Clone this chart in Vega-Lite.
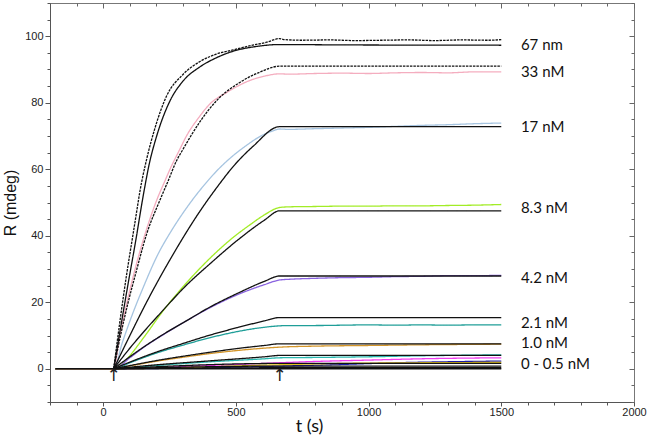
{
  "$schema": "https://vega.github.io/schema/vega-lite/v6.json",
  "width": 584,
  "height": 399,
  "autosize": {"type": "none"},
  "padding": {"left": 50, "top": 3, "right": 15, "bottom": 39},
  "background": "white",
  "config": {
    "view": {"stroke": "#777", "strokeWidth": 1},
    "axis": {"grid": false}
  },
  "datasets": {
    "lines": [
      {"s":"p33","t":-180,"r":0},{"s":"p33","t":40,"r":0},{"s":"p33","t":63,"r":10},{"s":"p33","t":93,"r":21},{"s":"p33","t":124,"r":31},{"s":"p33","t":164,"r":42},{"s":"p33","t":201,"r":50.5},{"s":"p33","t":233,"r":56.5},{"s":"p33","t":252,"r":60},{"s":"p33","t":289,"r":66},{"s":"p33","t":314,"r":70},{"s":"p33","t":360,"r":75.5},{"s":"p33","t":402,"r":79.6},{"s":"p33","t":466,"r":83.1},{"s":"p33","t":553,"r":86.7},{"s":"p33","t":608,"r":88},{"s":"p33","t":665,"r":88.7},{"s":"p33","t":700,"r":88.6},{"s":"p33","t":800,"r":88.8},{"s":"p33","t":900,"r":88.9},{"s":"p33","t":1000,"r":88.8},{"s":"p33","t":1100,"r":89.0},{"s":"p33","t":1200,"r":89.1},{"s":"p33","t":1300,"r":89.0},{"s":"p33","t":1400,"r":89.3},{"s":"p33","t":1500,"r":89.3},
      {"s":"b17","t":-180,"r":0},{"s":"b17","t":40,"r":0},{"s":"b17","t":73,"r":8},{"s":"b17","t":104,"r":15},{"s":"b17","t":154,"r":25},{"s":"b17","t":204,"r":34},{"s":"b17","t":255,"r":41.2},{"s":"b17","t":305,"r":47.3},{"s":"b17","t":352,"r":52.4},{"s":"b17","t":402,"r":57.2},{"s":"b17","t":427,"r":59.4},{"s":"b17","t":487,"r":63.9},{"s":"b17","t":537,"r":67},{"s":"b17","t":590,"r":69.8},{"s":"b17","t":638,"r":71.5},{"s":"b17","t":665,"r":72.1},{"s":"b17","t":700,"r":72.0},{"s":"b17","t":800,"r":72.2},{"s":"b17","t":900,"r":72.4},{"s":"b17","t":1000,"r":72.6},{"s":"b17","t":1100,"r":72.9},{"s":"b17","t":1200,"r":73.2},{"s":"b17","t":1300,"r":73.4},{"s":"b17","t":1400,"r":73.7},{"s":"b17","t":1500,"r":73.9},
      {"s":"g8","t":-180,"r":0},{"s":"g8","t":40,"r":0},{"s":"g8","t":63,"r":0.8},{"s":"g8","t":94,"r":3.3},{"s":"g8","t":154,"r":9.5},{"s":"g8","t":226,"r":17.4},{"s":"g8","t":305,"r":25},{"s":"g8","t":406,"r":33.5},{"s":"g8","t":490,"r":39.5},{"s":"g8","t":557,"r":43.5},{"s":"g8","t":608,"r":46.3},{"s":"g8","t":665,"r":48.5},{"s":"g8","t":700,"r":48.7},{"s":"g8","t":800,"r":48.8},{"s":"g8","t":900,"r":48.9},{"s":"g8","t":1000,"r":48.9},{"s":"g8","t":1100,"r":49.0},{"s":"g8","t":1200,"r":49.0},{"s":"g8","t":1300,"r":49.1},{"s":"g8","t":1400,"r":49.2},{"s":"g8","t":1500,"r":49.4},
      {"s":"pu4","t":-180,"r":0},{"s":"pu4","t":40,"r":0},{"s":"pu4","t":104,"r":3.5},{"s":"pu4","t":154,"r":6.5},{"s":"pu4","t":240,"r":10.9},{"s":"pu4","t":305,"r":14},{"s":"pu4","t":406,"r":18.5},{"s":"pu4","t":507,"r":22.3},{"s":"pu4","t":608,"r":25.3},{"s":"pu4","t":665,"r":26.7},{"s":"pu4","t":700,"r":26.9},{"s":"pu4","t":800,"r":27.2},{"s":"pu4","t":900,"r":27.4},{"s":"pu4","t":1000,"r":27.5},{"s":"pu4","t":1100,"r":27.7},{"s":"pu4","t":1200,"r":27.8},{"s":"pu4","t":1300,"r":28.0},{"s":"pu4","t":1400,"r":28.0},{"s":"pu4","t":1500,"r":28.1},
      {"s":"t2","t":-180,"r":0},{"s":"t2","t":40,"r":0},{"s":"t2","t":104,"r":1.9},{"s":"t2","t":204,"r":4.8},{"s":"t2","t":305,"r":7.2},{"s":"t2","t":406,"r":9.4},{"s":"t2","t":507,"r":11.2},{"s":"t2","t":590,"r":12.3},{"s":"t2","t":665,"r":12.9},{"s":"t2","t":700,"r":13.0},{"s":"t2","t":800,"r":13.0},{"s":"t2","t":900,"r":13.1},{"s":"t2","t":1000,"r":13.2},{"s":"t2","t":1100,"r":13.1},{"s":"t2","t":1200,"r":13.2},{"s":"t2","t":1300,"r":13.1},{"s":"t2","t":1400,"r":13.2},{"s":"t2","t":1500,"r":13.2},
      {"s":"o1","t":-180,"r":0},{"s":"o1","t":40,"r":0},{"s":"o1","t":104,"r":0.9},{"s":"o1","t":204,"r":2.3},{"s":"o1","t":305,"r":3.5},{"s":"o1","t":406,"r":4.6},{"s":"o1","t":507,"r":5.5},{"s":"o1","t":608,"r":6.2},{"s":"o1","t":665,"r":6.5},{"s":"o1","t":800,"r":6.8},{"s":"o1","t":1000,"r":7.0},{"s":"o1","t":1200,"r":7.2},{"s":"o1","t":1500,"r":7.4},
      {"s":"t05","t":-180,"r":0},{"s":"t05","t":40,"r":0},{"s":"t05","t":204,"r":1.0},{"s":"t05","t":406,"r":2.1},{"s":"t05","t":608,"r":3.0},{"s":"t05","t":665,"r":3.3},{"s":"t05","t":800,"r":3.4},{"s":"t05","t":1000,"r":3.6},{"s":"t05","t":1200,"r":3.9},{"s":"t05","t":1400,"r":4.1},{"s":"t05","t":1500,"r":4.2},
      {"s":"m","t":-180,"r":0},{"s":"m","t":40,"r":0},{"s":"m","t":406,"r":1.0},{"s":"m","t":665,"r":1.8},{"s":"m","t":800,"r":2.2},{"s":"m","t":1000,"r":2.6},{"s":"m","t":1200,"r":3.0},{"s":"m","t":1500,"r":3.3},
      {"s":"n","t":-180,"r":0},{"s":"n","t":40,"r":0},{"s":"n","t":665,"r":0.8},{"s":"n","t":900,"r":1.3},{"s":"n","t":1100,"r":1.8},{"s":"n","t":1300,"r":2.1},{"s":"n","t":1500,"r":2.3},
      {"s":"yl","t":-180,"r":0},{"s":"yl","t":40,"r":0},{"s":"yl","t":665,"r":1.2},{"s":"yl","t":900,"r":1.6},{"s":"yl","t":1200,"r":1.8},{"s":"yl","t":1500,"r":1.9},
      {"s":"f67","t":40,"r":0},{"s":"f67","t":63,"r":11},{"s":"f67","t":93,"r":25},{"s":"f67","t":124,"r":39},{"s":"f67","t":150,"r":51.5},{"s":"f67","t":175,"r":62},{"s":"f67","t":200,"r":69.5},{"s":"f67","t":251,"r":80.4},{"s":"f67","t":301,"r":86.5},{"s":"f67","t":365,"r":90.8},{"s":"f67","t":426,"r":93.5},{"s":"f67","t":490,"r":95.5},{"s":"f67","t":567,"r":96.8},{"s":"f67","t":665,"r":97.5},{"s":"f67","t":900,"r":97.4},{"s":"f67","t":1500,"r":97.3},
      {"s":"d67","t":40,"r":0},{"s":"d67","t":63,"r":14},{"s":"d67","t":88,"r":28},{"s":"d67","t":114,"r":41},{"s":"d67","t":126,"r":47},{"s":"d67","t":138,"r":53},{"s":"d67","t":164,"r":63},{"s":"d67","t":194,"r":72},{"s":"d67","t":239,"r":82},{"s":"d67","t":301,"r":88.5},{"s":"d67","t":365,"r":92.4},{"s":"d67","t":426,"r":94.6},{"s":"d67","t":490,"r":95.9},{"s":"d67","t":557,"r":97.2},{"s":"d67","t":616,"r":98.2},{"s":"d67","t":665,"r":99.3},{"s":"d67","t":680,"r":99.0},{"s":"d67","t":750,"r":98.8},{"s":"d67","t":850,"r":98.9},{"s":"d67","t":950,"r":98.7},{"s":"d67","t":1050,"r":98.8},{"s":"d67","t":1150,"r":98.9},{"s":"d67","t":1250,"r":98.7},{"s":"d67","t":1350,"r":98.9},{"s":"d67","t":1450,"r":98.8},{"s":"d67","t":1500,"r":99.0},
      {"s":"f33","t":40,"r":0},{"s":"f33","t":63,"r":9},{"s":"f33","t":93,"r":19.5},{"s":"f33","t":124,"r":29},{"s":"f33","t":164,"r":40.5},{"s":"f33","t":213,"r":50.5},{"s":"f33","t":245,"r":56.5},{"s":"f33","t":277,"r":62.6},{"s":"f33","t":301,"r":66},{"s":"f33","t":365,"r":74.3},{"s":"f33","t":427,"r":80.6},{"s":"f33","t":515,"r":86.1},{"s":"f33","t":590,"r":89.2},{"s":"f33","t":665,"r":91.0},{"s":"f33","t":1500,"r":91.0},
      {"s":"f17","t":40,"r":0},{"s":"f17","t":104,"r":10.5},{"s":"f17","t":154,"r":18.5},{"s":"f17","t":204,"r":26},{"s":"f17","t":255,"r":33.2},{"s":"f17","t":308,"r":40.3},{"s":"f17","t":355,"r":46.2},{"s":"f17","t":433,"r":55},{"s":"f17","t":490,"r":60.8},{"s":"f17","t":565,"r":66.9},{"s":"f17","t":665,"r":72.8},{"s":"f17","t":1500,"r":72.8},
      {"s":"f8","t":40,"r":0},{"s":"f8","t":104,"r":6.5},{"s":"f8","t":154,"r":11.2},{"s":"f8","t":226,"r":17.6},{"s":"f8","t":305,"r":24.4},{"s":"f8","t":406,"r":31.8},{"s":"f8","t":507,"r":38.7},{"s":"f8","t":608,"r":44.7},{"s":"f8","t":665,"r":47.5},{"s":"f8","t":1500,"r":47.5},
      {"s":"f4","t":40,"r":0},{"s":"f4","t":104,"r":3.8},{"s":"f4","t":154,"r":6.6},{"s":"f4","t":240,"r":11.0},{"s":"f4","t":305,"r":14.0},{"s":"f4","t":406,"r":18.7},{"s":"f4","t":507,"r":22.7},{"s":"f4","t":608,"r":26.3},{"s":"f4","t":665,"r":27.9},{"s":"f4","t":1500,"r":27.9},
      {"s":"f2","t":40,"r":0},{"s":"f2","t":104,"r":2.1},{"s":"f2","t":204,"r":5.1},{"s":"f2","t":305,"r":7.7},{"s":"f2","t":406,"r":10.2},{"s":"f2","t":507,"r":12.4},{"s":"f2","t":608,"r":14.4},{"s":"f2","t":665,"r":15.4},{"s":"f2","t":1500,"r":15.4},
      {"s":"f1","t":40,"r":0},{"s":"f1","t":104,"r":1.0},{"s":"f1","t":204,"r":2.5},{"s":"f1","t":305,"r":3.8},{"s":"f1","t":406,"r":5.0},{"s":"f1","t":507,"r":6.1},{"s":"f1","t":608,"r":7.0},{"s":"f1","t":665,"r":7.5},{"s":"f1","t":1500,"r":7.5},
      {"s":"f05","t":40,"r":0},{"s":"f05","t":204,"r":1.2},{"s":"f05","t":406,"r":2.4},{"s":"f05","t":608,"r":3.6},{"s":"f05","t":665,"r":4.0},{"s":"f05","t":1500,"r":4.0},
      {"s":"fl1","t":40,"r":0},{"s":"fl1","t":665,"r":1.6},{"s":"fl1","t":1500,"r":1.6},
      {"s":"fl2","t":40,"r":0},{"s":"fl2","t":665,"r":0.8},{"s":"fl2","t":1500,"r":0.8},
      {"s":"fl3","t":40,"r":0},{"s":"fl3","t":665,"r":0.3},{"s":"fl3","t":1500,"r":0.3},
      {"s":"z","t":-180,"r":0},{"s":"z","t":40,"r":0},{"s":"z","t":1500,"r":0}
    ],
    "labels": [
      {"lab":"67 nm","t":1574,"r":97.4},
      {"lab":"33 nM","t":1574,"r":89.1},
      {"lab":"17 nM","t":1574,"r":72.6},
      {"lab":"8.3 nM","t":1574,"r":48.3},
      {"lab":"4.2 nM","t":1574,"r":27.3},
      {"lab":"2.1 nM","t":1574,"r":13.8},
      {"lab":"1.0 nM","t":1574,"r":7.8},
      {"lab":"0 - 0.5 nM","t":1574,"r":1.3}
    ],
    "arrows": [
      {"t":40,"r":-2.3},
      {"t":665,"r":-2.3}
    ]
  },
  "layer": [
    {
      "data": {"name": "lines"},
      "mark": {"type": "line", "interpolate": "monotone"},
      "encoding": {
        "x": {
          "field": "t", "type": "quantitative",
          "scale": {"domain": [-200, 2000], "nice": false, "zero": false},
          "axis": {
            "orient": "bottom",
            "values": [-200,-100,0,100,200,300,400,500,600,700,800,900,1000,1100,1200,1300,1400,1500,1600,1700,1800,1900,2000],
            "format": "d",
            "labelExpr": "datum.value % 500 === 0 && datum.value >= 0 ? datum.label : ''",
            "tickSize": {"condition": {"test": "datum.value % 500 === 0", "value": 4}, "value": 3},
            "tickColor": "#555",
            "domainColor": "#555",
            "labelFont": "Liberation Sans",
            "labelFontSize": 11,
            "labelColor": "#222",
            "labelPadding": 0,
            "labelFlush": false,
            "labelOverlap": false,
            "title": "t (s)",
            "titleFont": "Lato",
            "titleFontSize": 18,
            "titleFontWeight": "normal",
            "titleColor": "#111",
            "titleX": 259,
            "titleY": 15,
            "titleBaseline": "top"
          }
        },
        "y": {
          "field": "r", "type": "quantitative",
          "scale": {"domain": [-10, 110], "nice": false, "zero": false},
          "axis": {
            "orient": "left",
            "values": [-10,-5,0,5,10,15,20,25,30,35,40,45,50,55,60,65,70,75,80,85,90,95,100,105,110],
            "format": "d",
            "labelExpr": "datum.value % 20 === 0 && datum.value >= 0 ? datum.label : ''",
            "tickSize": {"condition": {"test": "datum.value % 20 === 0", "value": 5}, "value": 3},
            "tickColor": "#555",
            "domainColor": "#555",
            "labelFont": "Liberation Sans",
            "labelFontSize": 11,
            "labelColor": "#222",
            "labelPadding": 2,
            "labelOverlap": false,
            "title": "R (mdeg)",
            "titleFont": "Liberation Sans",
            "titleFontSize": 16,
            "titleFontWeight": "normal",
            "titleColor": "#111",
            "titlePadding": 6
          }
        },
        "color": {
          "field": "s", "type": "nominal", "legend": null,
          "scale": {
            "domain": ["p33","b17","g8","pu4","t2","o1","t05","m","n","yl","f67","d67","f33","f17","f8","f4","f2","f1","f05","fl1","fl2","fl3","z"],
            "range": ["#f4adbf","#a6c4e0","#a2ec26","#8a63e0","#1f9e98","#d4962a","#2ab8b0","#f03cf0","#1c1ca8","#e3c21a","#111","#111","#111","#111","#111","#111","#111","#111","#111","#111","#111","#111","#111"]
          }
        },
        "strokeDash": {
          "field": "s", "type": "nominal", "legend": null,
          "scale": {
            "domain": ["p33","b17","g8","pu4","t2","o1","t05","m","n","yl","f67","d67","f33","f17","f8","f4","f2","f1","f05","fl1","fl2","fl3","z"],
            "range": [[1,0],[1,0],[1,0],[1,0],[1,0],[1,0],[1,0],[1,0],[1,0],[1,0],[1,0],[2.5,1],[2.5,1],[1,0],[1,0],[1,0],[1,0],[1,0],[1,0],[1,0],[1,0],[1,0],[1,0]]
          }
        },
        "strokeWidth": {
          "field": "s", "type": "nominal", "legend": null,
          "scale": {
            "domain": ["p33","b17","g8","pu4","t2","o1","t05","m","n","yl","f67","d67","f33","f17","f8","f4","f2","f1","f05","fl1","fl2","fl3","z"],
            "range": [1.3,1.3,1.4,1.4,1.3,1.3,1.3,1.3,1.3,1.3,1.5,1.5,1.5,1.5,1.5,1.5,1.5,1.5,1.5,1.5,1.5,1.5,2.5]
          }
        }
      }
    },
    {
      "data": {"name": "labels"},
      "mark": {"type": "text", "align": "left", "baseline": "middle", "font": "Lato", "fontSize": 15, "color": "#111"},
      "encoding": {
        "x": {
          "field": "t", "type": "quantitative",
          "axis": {
            "orient": "top",
            "values": [-200,-100,0,100,200,300,400,500,600,700,800,900,1000,1100,1200,1300,1400,1500,1600,1700,1800,1900,2000],
            "labels": false,
            "domain": false,
            "title": null,
            "tickColor": "#666",
            "tickSize": {"condition": {"test": "datum.value % 500 === 0", "value": -5}, "value": -3}
          }
        },
        "y": {
          "field": "r", "type": "quantitative",
          "axis": {
            "orient": "right",
            "values": [-10,-5,0,5,10,15,20,25,30,35,40,45,50,55,60,65,70,75,80,85,90,95,100,105,110],
            "labels": false,
            "domain": false,
            "title": null,
            "tickColor": "#666",
            "tickSize": {"condition": {"test": "datum.value % 20 === 0", "value": -5}, "value": -3}
          }
        },
        "text": {"field": "lab"}
      }
    },
    {
      "data": {"name": "arrows"},
      "mark": {"type": "text", "text": "↑", "align": "center", "baseline": "middle", "font": "DejaVu Sans", "fontSize": 17, "color": "#222"},
      "encoding": {
        "x": {"field": "t", "type": "quantitative", "axis": null},
        "y": {"field": "r", "type": "quantitative", "axis": null}
      }
    }
  ],
  "resolve": {"axis": {"x": "independent", "y": "independent"}}
}
